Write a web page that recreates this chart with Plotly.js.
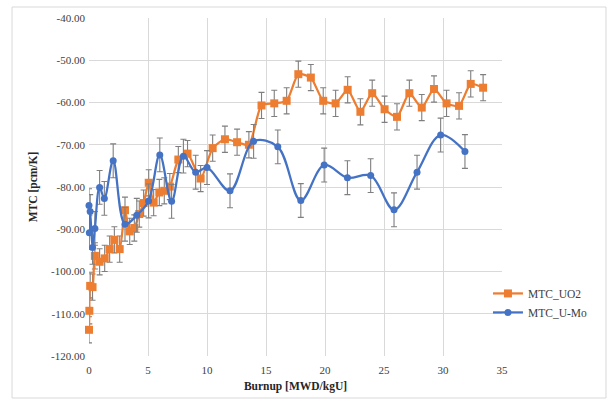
<!DOCTYPE html>
<html>
<head>
<meta charset="utf-8">
<script src="https://cdn.plot.ly/plotly-3.0.1.min.js"></script>
<style>
html,body{margin:0;padding:0;background:#fff;}
#chart{width:613px;height:401px;}
</style>
</head>
<body>
<div id="chart"></div>
<script>
// Data
const uo2Burnup = [0, 0.03, 0.1, 0.3, 0.5, 0.9, 1.33, 1.75, 2.15, 2.6, 3.05, 3.45, 3.84, 4.26, 4.63, 5.06, 5.48, 5.96, 6.38, 6.85, 7.57, 8.35, 9.46, 10.48, 11.52, 12.55, 13.55, 14.62, 15.7, 16.75, 17.74, 18.8, 19.85, 20.9, 21.92, 23.0, 24.0, 25.05, 26.1, 27.15, 28.2, 29.24, 30.3, 31.36, 32.35, 33.4];
const uo2MTC = [-113.8, -109.3, -103.4, -103.7, -96.3, -97.7, -96.9, -94.7, -92.5, -94.7, -85.5, -90.5, -89.7, -86.4, -83.8, -79.0, -83.7, -81.3, -80.9, -79.9, -73.5, -72.1, -78.0, -70.8, -68.7, -69.4, -70.0, -60.7, -60.2, -59.6, -53.3, -54.1, -59.6, -60.2, -57.0, -62.2, -57.8, -61.6, -63.4, -57.8, -61.2, -56.8, -60.2, -60.8, -55.6, -56.5];
const uo2Err = 3.1;

const umoBurnup = [0, 0.03, 0.1, 0.3, 0.5, 0.9, 1.3, 2.05, 3.05, 4.05, 5.05, 6.0, 7.0, 8.0, 9.04, 10.0, 11.95, 13.95, 16.0, 17.95, 19.93, 21.9, 23.87, 25.85, 27.8, 29.8, 31.86];
const umoMTC = [-84.4, -90.8, -85.8, -94.3, -89.8, -80.1, -82.7, -73.8, -88.8, -86.7, -83.3, -72.4, -83.4, -72.7, -76.5, -75.4, -80.9, -69.2, -70.5, -83.2, -74.8, -77.8, -77.3, -85.4, -76.5, -67.7, -71.6];
const umoErr = 4.0;

const seriesNames = ["MTC_UO2", "MTC_U-Mo"];
const yTickVals = [-120, -110, -100, -90, -80, -70, -60, -50, -40];
const yTickText = ["-120.00", "-110.00", "-100.00", "-90.00", "-80.00", "-70.00", "-60.00", "-50.00", "-40.00"];
const xTickVals = [0, 5, 10, 15, 20, 25, 30, 35];
const xTitle = "Burnup [MWD/kgU]";
const yTitle = "MTC [pcm/K]";

const ORANGE = "#ED7D31";
const BLUE = "#4472C4";
const ERRC = "#7f7f7f";
const FONT = "'Liberation Serif', 'Times New Roman', serif";

const traces = [
  {
    x: uo2Burnup, y: uo2MTC, name: seriesNames[0], type: "scatter", mode: "lines+markers",
    cliponaxis: false,
    line: {color: ORANGE, width: 2.25, shape: "spline", smoothing: 0.6},
    marker: {symbol: "square", size: 8, color: ORANGE},
    error_y: {type: "constant", value: uo2Err, color: ERRC, thickness: 1.1, width: 3}
  },
  {
    x: umoBurnup, y: umoMTC, name: seriesNames[1], type: "scatter", mode: "lines+markers",
    cliponaxis: false,
    line: {color: BLUE, width: 2.25, shape: "spline", smoothing: 1},
    marker: {symbol: "circle", size: 7, color: BLUE},
    error_y: {type: "constant", value: umoErr, color: ERRC, thickness: 1.1, width: 3}
  }
];

const layout = {
  width: 613, height: 401,
  margin: {l: 89, r: 111, t: 18, b: 45, pad: 0},
  paper_bgcolor: "#ffffff", plot_bgcolor: "#ffffff",
  font: {family: FONT, size: 11, color: "#404040"},
  showlegend: true,
  legend: {x: 0.966, y: 0.228, xanchor: "left", yanchor: "top", bgcolor: "rgba(0,0,0,0)",
           font: {family: FONT, size: 11.5, color: "#404040"}, itemwidth: 30, tracegroupgap: 0},
  xaxis: {
    range: [0, 35], tickmode: "array", tickvals: xTickVals,
    showgrid: true, gridcolor: "#d9d9d9", gridwidth: 1, zeroline: false,
    showline: false, ticks: "", ticklabelstandoff: 6,
    tickfont: {family: FONT, size: 11, color: "#404040"},
    title: {text: xTitle, font: {family: FONT, size: 11.5, color: "#262626", weight: "bold"}, standoff: 6}
  },
  yaxis: {
    range: [-120, -40], tickmode: "array", tickvals: yTickVals, ticktext: yTickText,
    showgrid: true, gridcolor: "#d9d9d9", gridwidth: 1, zeroline: false,
    showline: false, ticks: "", ticklabelstandoff: 3,
    tickfont: {family: FONT, size: 11, color: "#404040"},
    title: {text: yTitle, font: {family: FONT, size: 11.5, color: "#262626", weight: "bold"}, standoff: 11}
  },
  shapes: [
    {type: "rect", xref: "paper", yref: "paper", x0: -0.1864, x1: 1.2518, y0: -0.1243, y1: 1.0325,
     line: {color: "#d9d9d9", width: 1}, fillcolor: "rgba(0,0,0,0)", layer: "below"}
  ]
};

Plotly.newPlot("chart", traces, layout, {displayModeBar: false, staticPlot: true});
</script>
</body>
</html>
